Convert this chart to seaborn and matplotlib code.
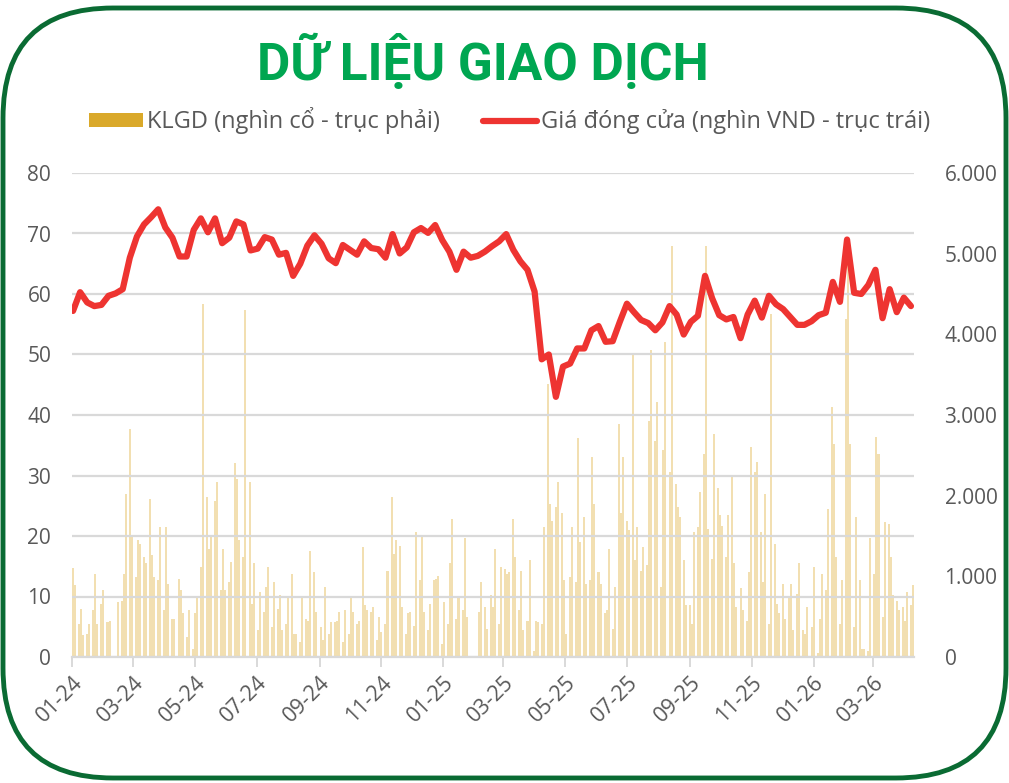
import pandas as pd
import matplotlib.pyplot as plt
from matplotlib.patches import FancyBboxPatch, Rectangle
from matplotlib.lines import Line2D
import seaborn as sns

# Weekly closing price (Tuesdays), thousand VND - left axis
price_start = "2024-01-02"
close_price = [
    57.2, 60.3, 58.6, 58.0, 58.2, 59.7, 60.1, 60.8, 66.0, 69.5,
    71.5, 72.7, 74.0, 71.0, 69.3, 66.2, 66.2, 70.6, 72.5, 70.2,
    72.5, 68.4, 69.3, 72.0, 71.5, 67.2, 67.5, 69.4, 69.0, 66.5,
    66.8, 63.0, 65.0, 68.0, 69.7, 68.3, 65.9, 65.1, 68.1, 67.3,
    66.5, 68.7, 67.6, 67.4, 66.0, 69.9, 66.7, 67.7, 70.2, 70.9,
    70.1, 71.4, 68.9, 67.0, 64.0, 67.0, 66.0, 66.3, 67.0, 67.9,
    68.7, 69.9, 67.3, 65.4, 64.0, 60.4, 49.2, 50.0, 43.0, 48.0,
    48.5, 51.0, 51.0, 54.0, 54.7, 52.1, 52.2, 55.4, 58.4, 57.0,
    55.7, 55.2, 54.0, 55.3, 58.0, 56.6, 53.3, 55.4, 56.4, 63.0,
    59.3, 56.5, 55.8, 56.2, 52.7, 56.6, 58.9, 56.1, 59.7, 58.3,
    57.5, 56.2, 54.9, 54.9, 55.5, 56.5, 56.9, 62.0, 58.7, 69.0,
    60.2, 60.0, 61.5, 64.0, 56.0, 60.8, 57.0, 59.4, 58.0,
]

# Trading volume, every second trading day, thousand shares - right axis
volume_start = "2024-01-02"
volume = [
    1100, 890, 410, 600, 270, 290, 410, 580, 1030, 410,
    660, 830, 430, 450, 0, 0, 680, 700, 1030, 2020,
    2830, 1490, 990, 1450, 1400, 1240, 1160, 1960, 1260, 990,
    950, 1610, 580, 1610, 910, 475, 475, 970, 830, 540,
    250, 580, 100, 540, 745, 1115, 4380, 1980, 1340, 1490,
    1940, 2170, 830, 1340, 830, 930, 1180, 2400, 2210, 1450,
    1240, 4300, 2170, 660, 1160, 330, 805, 560, 870, 1115,
    370, 930, 600, 765, 330, 410, 745, 1030, 290, 290,
    185, 745, 475, 450, 1320, 1050, 560, 370, 205, 870,
    290, 430, 430, 450, 560, 185, 580, 290, 745, 560,
    410, 450, 1360, 640, 580, 560, 620, 205, 500, 310,
    410, 1070, 1980, 1280, 1450, 1380, 620, 290, 540, 560,
    390, 1550, 950, 1490, 560, 330, 660, 950, 970, 1010,
    165, 680, 410, 1160, 1710, 475, 745, 580, 1470, 500,
    0, 0, 0, 560, 930, 620, 350, 765, 620, 1340,
    410, 1115, 1095, 1030, 1050, 1710, 1240, 580, 1070, 330,
    450, 1200, 80, 450, 430, 410, 1610, 3390, 1900, 1690,
    1860, 2170, 1780, 950, 290, 990, 1610, 930, 2710, 1420,
    1730, 910, 950, 2480, 1900, 1050, 910, 540, 580, 1340,
    350, 870, 2890, 1780, 2480, 1690, 1570, 3740, 1200, 1610,
    1070, 1360, 1135, 2930, 3800, 2680, 3160, 870, 2560, 3900,
    2290, 5100, 2150, 1860, 1730, 1200, 640, 640, 410, 1550,
    1610, 2040, 2520, 5100, 1590, 1220, 2770, 2090, 1760, 1630,
    1240, 1760, 2230, 1160, 620, 850, 580, 450, 1050, 2600,
    2290, 2420, 1550, 930, 2020, 410, 4250, 1400, 660, 540,
    910, 475, 745, 910, 330, 785, 1160, 330, 290, 620,
    370, 1115, 50, 475, 1030, 830, 1840, 3100, 2640, 1240,
    410, 950, 4190, 5200, 2640, 370, 1730, 950, 100, 100,
    80, 1470, 1030, 2730, 2520, 500, 1670, 1650, 1240, 765,
    700, 580, 620, 450, 805, 640, 890,
]

title = "DỮ LIỆU GIAO DỊCH"
vol_label = "KLGD (nghìn cổ - trục phải)"
price_label = "Giá đóng cửa (nghìn VND - trục trái)"

price_df = pd.DataFrame({
    "date": pd.date_range(price_start, periods=len(close_price), freq="W-TUE"),
    "close": close_price,
})
vol_df = pd.DataFrame({
    "date": pd.bdate_range(volume_start, periods=len(volume), freq="2B"),
    "volume": volume,
})

sns.set_theme(style="white")
plt.rcParams["font.family"] = ["Open Sans", "DejaVu Sans"]

GREY = "#595959"
GRID = "#D9D9D9"
W, H = 1009, 783

fig = plt.figure(figsize=(W / 100, H / 100), dpi=100)

# background layer in pixel coordinates: frame, title, legend
bg = fig.add_axes([0, 0, 1, 1], zorder=0)
bg.set_xlim(0, W)
bg.set_ylim(0, H)
bg.axis("off")
bg.add_patch(FancyBboxPatch((3, 5), W - 6, H - 13,
                            boxstyle="round,pad=0,rounding_size=110",
                            facecolor="white", edgecolor="#0A6B33", linewidth=3.5))
bg.text(483, H - 80, title, ha="center", va="baseline", fontsize=37,
        fontweight="bold", color="#00A651", family=["Roboto", "DejaVu Sans"])
bg.add_patch(Rectangle((89, H - 127), 54, 14, facecolor="#DAA92A", edgecolor="none"))
bg.text(147, H - 121, vol_label, ha="left", va="center", fontsize=17, color=GREY)
bg.add_line(Line2D([483, 537], [H - 121, H - 121], color="#EE3431", linewidth=4.5,
                   solid_capstyle="round"))
bg.text(541, H - 121, price_label, ha="left", va="center", fontsize=17, color=GREY)

# main chart
left, right = 72 / W, 914 / W
bottom, top = (H - 657) / H, (H - 173) / H
ax2 = fig.add_axes([left, bottom, right - left, top - bottom], zorder=1)
ax = ax2.twinx()
ax.set_zorder(2)
ax.patch.set_visible(False)
ax2.patch.set_visible(False)

# volume bars on the right axis
ax2.bar(vol_df["date"], vol_df["volume"], width=2.0, color="#E4BA52",
        alpha=0.45, linewidth=0)
ax2.set_ylim(0, 6000)
ax2.set_yticks(range(0, 6001, 1000))
ax2.set_yticklabels([f"{v:,}".replace(",", ".") for v in range(0, 6001, 1000)])
ax2.yaxis.tick_right()

# price line on the left axis
sns.lineplot(data=price_df, x="date", y="close", ax=ax, color="#EE3431",
             linewidth=4.5, solid_capstyle="round")
ax.set_ylim(0, 80)
ax.set_yticks(range(0, 81, 10))
ax.yaxis.tick_left()
ax.grid(axis="y", color=GRID, linewidth=1.6)
ax.set_axisbelow(True)
ax.set_xlabel("")
ax.set_ylabel("")

x0, x1 = pd.Timestamp("2024-01-01"), pd.Timestamp("2026-04-10")
ticks = pd.date_range("2024-01-01", "2026-03-01", freq="2MS")
for a in (ax, ax2):
    a.set_xlim(x0, x1)
    for s in ["top", "left", "right"]:
        a.spines[s].set_visible(False)
    a.spines["bottom"].set_color(GRID)
    a.spines["bottom"].set_linewidth(1.6)
ax.spines["bottom"].set_visible(False)

ax2.set_xticks(ticks)
ax2.set_xticklabels(ticks.strftime("%m-%y"), rotation=45, ha="right",
                    va="top", rotation_mode="anchor")
ax2.tick_params(axis="x", length=7, width=1.4, color=GRID, labelsize=15.5,
                labelcolor=GREY, pad=4, bottom=True)
ax2.tick_params(axis="y", length=0, labelsize=15, labelcolor=GREY, pad=22)
ax.tick_params(axis="y", length=0, labelsize=15, labelcolor=GREY, pad=15)
ax.tick_params(axis="x", bottom=False, labelbottom=False)

fig.savefig("out.png", dpi=100)
